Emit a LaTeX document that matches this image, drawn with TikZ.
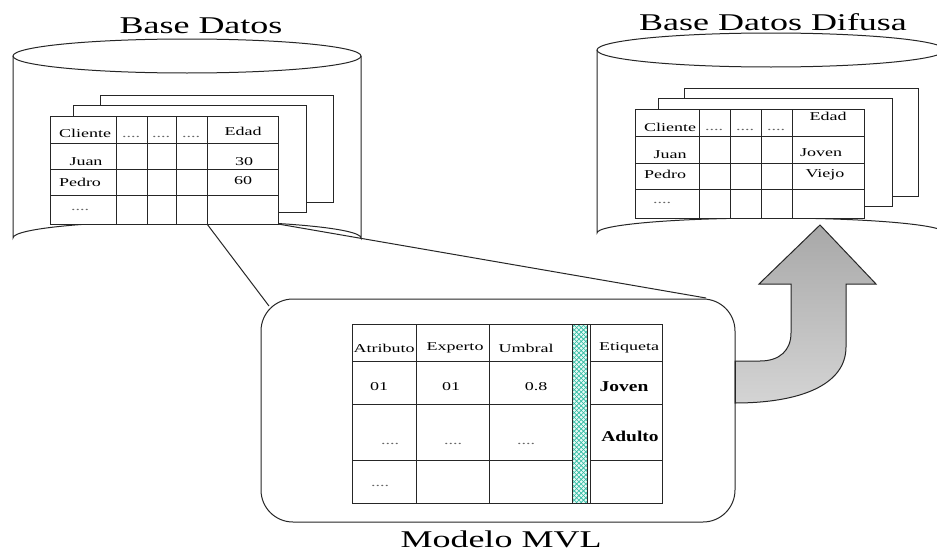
\documentclass[tikz,border=0pt]{standalone}
\usepackage{fontspec}
\setmainfont{Liberation Serif}
\newfontfamily\stf{Liberation Serif}[FakeStretch=1.5]
\newfontfamily\stbf{Liberation Serif}[FakeStretch=1.3]
\definecolor{hatchbg}{RGB}{230,250,245}
\definecolor{hatchfg}{RGB}{40,185,160}
\definecolor{arrtop}{RGB}{168,168,168}
\definecolor{arrbot}{RGB}{212,212,212}
\tikzset{
  txt/.style={inner sep=0pt, font=\stf\fontsize{12}{14}\selectfont},
  dotx/.style={txt, text=black!60},
  btxt/.style={inner sep=0pt, font=\stbf\bfseries\fontsize{15}{17}\selectfont},
  title/.style={inner sep=0pt, anchor=base, font=\stf\fontsize{24}{28}\selectfont},
  ln/.style={draw=black!85, line width=1pt},
  sheet/.style={ln, fill=white},
  hatchln/.style={draw=hatchfg, line width=0.6pt},
}
\begin{document}
\begin{tikzpicture}[x=1pt,y=-1pt]
\useasboundingbox (0,0) rectangle (937,554);
\clip (0,0) rectangle (937,554);
\fill[white] (0,0) rectangle (937,554);

% ---------- left cylinder ----------
\draw[ln] (13,56) -- (13,238) arc[start angle=180, end angle=360, x radius=174, y radius=17] -- (361,56);
\draw[ln] (187,56) ellipse[x radius=174, y radius=17];
% sheets
\draw[sheet] (100,95) rectangle (333,202);
\draw[sheet] (73,105) rectangle (306,212);
\draw[sheet] (50,116) rectangle (278,224);
\foreach \x in {116,147,176,207} \draw[ln] (\x,116) -- (\x,224);
\foreach \y in {143,169,195} \draw[ln] (50,\y) -- (278,\y);
\node[txt] (l1) at (85,133) {Cliente};
\node[dotx] (l2) at (131,137) {....};
\node[dotx] (l3) at (161,137) {....};
\node[dotx] (l4) at (191,137) {....};
\node[txt] (l5) at (243,131) {Edad};
\node[txt] (l6) at (86,162) {Juan};
\node[txt] (l7) at (244,162) {30};
\node[txt] (l8) at (80,182) {Pedro};
\node[txt] (l9) at (243,181) {60};
\node[dotx] (l10) at (80,210) {....};

% ---------- right cylinder ----------
\draw[ln] (597,50) -- (597,233) arc[start angle=180, end angle=360, x radius=174, y radius=15] -- (945,50);
\draw[ln] (771,50) ellipse[x radius=174, y radius=17];
\draw[sheet] (684,88) rectangle (918,196);
\draw[sheet] (658,98) rectangle (892,206);
\draw[sheet] (635,109) rectangle (864,218);
\foreach \x in {699,730,761,792} \draw[ln] (\x,109) -- (\x,218);
\foreach \y in {136,163,189} \draw[ln] (635,\y) -- (864,\y);
\node[txt] (r1) at (670,127) {Cliente};
\node[dotx] (r2) at (714,130) {....};
\node[dotx] (r3) at (745,130) {....};
\node[dotx] (r4) at (776,130) {....};
\node[txt] (r5) at (828,116) {Edad};
\node[txt] (r6) at (670,155) {Juan};
\node[txt] (r7) at (821,153) {Joven};
\node[txt] (r8) at (665,174) {Pedro};
\node[txt] (r9) at (825,175) {Viejo};
\node[dotx] (r10) at (662,203) {....};

% ---------- connectors ----------
\coordinate (cA) at (207,224);
\coordinate (cB) at (278,224);
\coordinate (mA) at (269,306);
\coordinate (mB) at (706,298);
\draw[ln] (cA) -- (mA);
\draw[ln] (cB) -- (mB);

% ---------- MVL box ----------
\node[ln, rounded corners=32pt, minimum width=474pt, minimum height=223pt, inner sep=0pt, outer sep=0pt] (mvl) at (498,410.5) {};

% hatched strip
\fill[hatchbg] (572,324) rectangle (587,503);
\begin{scope}
  \clip (572,324) rectangle (587,503);
  \foreach \i in {0,...,52} {
    \draw[hatchln] (572,300+4.6*\i) -- ++(20,20);
    \draw[hatchln] (572,300+4.6*\i) -- ++(20,-20);
  }
\end{scope}
% table
\draw[ln] (352,324) rectangle (572,503);
\draw[ln] (587,324) -- (587,503);
\draw[ln] (590,324) rectangle (662,503);
\draw[ln] (572,324) -- (590,324);
\draw[ln] (572,503) -- (590,503);
\foreach \x in {416,489} \draw[ln] (\x,324) -- (\x,503);
\foreach \y in {361,404,460} {\draw[ln] (352,\y) -- (572,\y); \draw[ln] (590,\y) -- (662,\y);}
\node[txt] (m1) at (384,348) {Atributo};
\node[txt] (m2) at (455,348) {Experto};
\node[txt] (m3) at (526,348) {Umbral};
\node[txt] (m4) at (629,348) {Etiqueta};
\node[txt] (m5) at (379,387) {01};
\node[txt] (m6) at (451,387) {01};
\node[txt] (m7) at (536,387) {0.8};
\node[btxt] (m8) at (624,387) {Joven};
\node[dotx] (m9) at (390,444) {....};
\node[dotx] (m10) at (453,444) {....};
\node[dotx] (m11) at (526,444) {....};
\node[btxt] (m12) at (630,436) {Adulto};
\node[dotx] (m13) at (380,486) {....};

% ---------- curved arrow ----------
\draw[ln, top color=arrtop, bottom color=arrbot]
  (735,361) -- (760,361) .. controls (780,361) and (791,350) .. (791,333)
  -- (791,284) -- (759,284) -- (820,225) -- (876,284) -- (846,284) -- (846,347)
  .. controls (846,385) and (800,403) .. (735,403) -- cycle;
\draw[ln] (735,361) -- (735,403);

% ---------- titles ----------
\node[title] (t1) at (201,33) {Base Datos};
\node[title] (t2) at (773,30) {Base Datos Difusa};
\node[title] (t3) at (501,547) {Modelo MVL};
\end{tikzpicture}
\end{document}
